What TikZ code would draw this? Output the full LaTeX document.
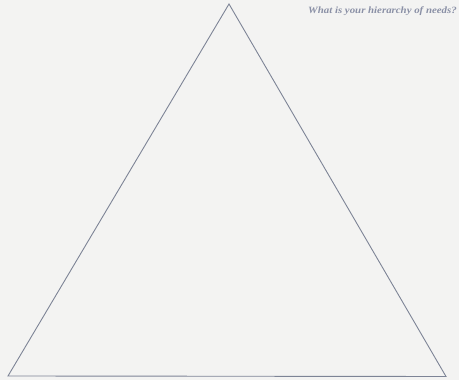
\documentclass[tikz,border=0pt]{standalone}
\usepackage{fontspec}
\setmainfont{Liberation Serif}
\usetikzlibrary{positioning}
\definecolor{paper}{HTML}{F3F3F2}
\definecolor{ink}{HTML}{7D8496}
\definecolor{caption}{HTML}{8A90A6}
\tikzset{
  edge/.style={draw=ink,line width=0.9pt,line join=miter},
  prompt/.style={font=\fontsize{9.6}{11}\selectfont\bfseries\itshape,text=caption,inner sep=0pt,xscale=1.13},
}

\begin{document}
\begin{tikzpicture}[x=1pt,y=1pt]
    \fill[paper] (0,0) rectangle (459,380);
    \useasboundingbox (0,0) rectangle (459,380);
    % corners of the pyramid
    \coordinate (apex) at (229,376);
    \coordinate (base left) at (8,4);
    \coordinate (base right) at (446,3.5);
    \draw[edge] (apex) -- (base right) -- (base left) -- cycle;
    \node[prompt,anchor=north east] (question) at (457,373.5) {What is your hierarchy of needs?};
  \end{tikzpicture}
\end{document}
